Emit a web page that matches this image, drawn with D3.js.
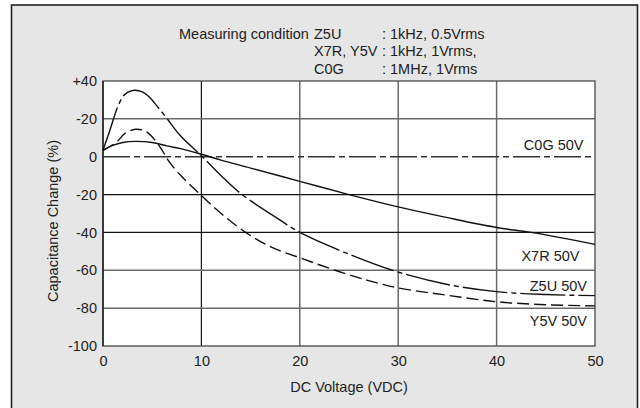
<!DOCTYPE html>
<html>
<head>
<meta charset="utf-8">
<script src="https://cdn.jsdelivr.net/npm/d3@7"></script>
<style>
    body { margin: 0; background: #fff; }
    svg { display: block; font-family: "Liberation Sans", Arial, sans-serif; }
</style>
</head>
<body>
<div id="chart"></div>
<script>
// Capacitance change vs DC voltage
const xTicks = [0, 10, 20, 30, 40, 50];
const yTicks = [40, 20, 0, -20, -40, -60, -80, -100];
const yTickLabels = ['+40', '-20', '0', '-20', '-40', '-60', '-80', '-100'];

const c0g = [[0, 0], [50, 0]];
const x7r = [[0, 3.4], [1, 6], [2, 7.5], [3.3, 8.1], [5, 7.5], [6.5, 5.7], [8.1, 4], [10, 1.3], [12, -1.8],
    [15, -6], [20, -13], [25, -20], [30, -26.5], [35, -32.2], [40, -37.4], [43.5, -40], [50, -46.3]];
const z5u = [[0, 3.4], [0.7, 14], [1.55, 27], [2.2, 32.8], [3.2, 35.1], [4, 34.2], [4.8, 31], [5.6, 26],
    [6.5, 20.2], [7.8, 11.5], [10, 0.5], [12, -10], [14, -19.5], [18, -33.5], [20, -40], [25, -51.5],
    [29.4, -60], [35, -67.5], [40, -71.3], [45, -72.8], [50, -73.4]];
const y5v = [[0, 3.4], [1.4, 7.8], [2.2, 12.2], [3.3, 14.5], [4.3, 13.5], [5.2, 9.3], [6, 3.5], [6.7, -2.5],
    [8, -10.5], [10, -20.5], [12, -30], [14.5, -40], [17, -47.5], [20, -53.4], [23.6, -60], [27, -65.5],
    [30, -69.3], [35, -73.2], [40, -76.6], [45, -78.2], [50, -78.8]];

const seriesNames = ['C0G 50V', 'X7R 50V', 'Z5U 50V', 'Y5V 50V'];
const conditionLines = [
    ['Measuring condition', 'Z5U', ': 1kHz, 0.5Vrms'],
    ['', 'X7R, Y5V', ': 1kHz, 1Vrms,'],
    ['', 'C0G', ': 1MHz, 1Vrms']
];

const W = 640, H = 408;
const margin = { top: 81, left: 103 };
const width = 492, height = 265;

const svg = d3.select('#chart').append('svg')
    .attr('width', W).attr('height', H);

// Frame
svg.append('rect')
    .attr('x', 11.5).attr('y', 5).attr('width', 626).attr('height', 420)
    .attr('fill', '#e6e6e6').attr('stroke', '#222').attr('stroke-width', 1.6);

const x = d3.scaleLinear().domain([0, 50]).range([0, width]);
const y = d3.scaleLinear().domain([-100, 40]).range([height, 0]);

const g = svg.append('g').attr('transform', `translate(${margin.left},${margin.top})`);

g.append('rect').attr('width', width).attr('height', height).attr('fill', '#fff');

// Gridlines (some are darker in the scan)
const darkX = [10], darkY = [-20, -40];
g.selectAll('.gx').data(xTicks.slice(1, -1)).join('line')
    .attr('x1', d => x(d)).attr('x2', d => x(d)).attr('y1', 0).attr('y2', height)
    .attr('stroke', d => darkX.includes(d) ? '#111' : '#6a6a6a')
    .attr('stroke-width', d => darkX.includes(d) ? 1.2 : 1.5);
g.selectAll('.gy').data(yTicks.filter(d => d !== 0 && d !== 40 && d !== -100)).join('line')
    .attr('x1', 0).attr('x2', width).attr('y1', d => y(d)).attr('y2', d => y(d))
    .attr('stroke', d => darkY.includes(d) ? '#111' : '#6a6a6a')
    .attr('stroke-width', d => darkY.includes(d) ? 1.2 : 1.5);

// Plot border
g.append('rect').attr('width', width).attr('height', height)
    .attr('fill', 'none').attr('stroke', '#555').attr('stroke-width', 1.4);
g.append('line').attr('x1', 0).attr('x2', 0).attr('y1', 0).attr('y2', height)
    .attr('stroke', '#111').attr('stroke-width', 1.3);

// Axes (labels only)
const xAxis = g.append('g')
    .attr('transform', `translate(0,${height})`)
    .call(d3.axisBottom(x).tickValues(xTicks).tickSize(0).tickPadding(10));
const yAxis = g.append('g')
    .call(d3.axisLeft(y).tickValues(yTicks).tickSize(0).tickPadding(6)
        .tickFormat((d, i) => yTickLabels[i]));
[xAxis, yAxis].forEach(a => {
    a.select('.domain').remove();
    a.selectAll('text').attr('font-size', '14.5px').attr('fill', '#222')
        .attr('font-family', '"Liberation Sans", Arial, sans-serif');
});

// Curves
const line = d3.line().x(d => x(d[0])).y(d => y(d[1])).curve(d3.curveCatmullRom.alpha(0.5));
const curves = [
    { data: c0g, dash: '27,4,6,4', color: '#333' },
    { data: x7r, dash: null, color: '#111' },
    { data: z5u, dash: '45,4,5,4', color: '#111' },
    { data: y5v, dash: '12,5', color: '#111' }
];
g.selectAll('.curve').data(curves).join('path')
    .attr('class', 'curve')
    .attr('d', d => line(d.data))
    .attr('fill', 'none')
    .attr('stroke', d => d.color)
    .attr('stroke-width', 1.4)
    .attr('stroke-dasharray', d => d.dash);

// Series labels
const labelY = [6, -52.5, -68, -87];
const labelX = [480.5, 476.5, 484, 484];
g.selectAll('.series-label').data(seriesNames).join('text')
    .attr('class', 'series-label')
    .attr('x', (d, i) => labelX[i])
    .attr('y', (d, i) => y(labelY[i]))
    .attr('dy', '0.35em')
    .attr('text-anchor', 'end')
    .attr('font-size', '14.5px').attr('fill', '#222')
    .text(d => d);

// Axis titles
svg.append('text')
    .attr('x', 349).attr('y', 392)
    .attr('text-anchor', 'middle').attr('font-size', '14.5px').attr('fill', '#222')
    .text('DC Voltage (VDC)');
svg.append('text')
    .attr('transform', 'translate(58,221) rotate(-90)')
    .attr('text-anchor', 'middle').attr('font-size', '14.5px').attr('fill', '#222')
    .text('Capacitance Change (%)');

// Measuring conditions
const colX = [179, 314, 382];
conditionLines.forEach((row, r) => {
    row.forEach((t, c) => {
        if (!t) return;
        svg.append('text')
            .attr('x', colX[c])
            .attr('y', 38.5 + r * 17.8)
            .attr('font-size', '14.5px').attr('fill', '#222')
            .text(t);
    });
});
</script>
</body>
</html>
